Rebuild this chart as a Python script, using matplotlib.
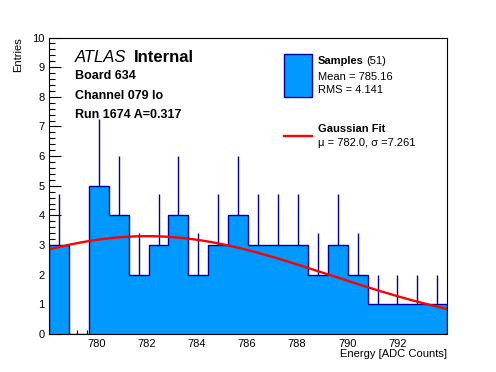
import numpy as np
import matplotlib
matplotlib.use("Agg")
import matplotlib.pyplot as plt
from matplotlib.ticker import MultipleLocator
from matplotlib.patches import Rectangle
from matplotlib.lines import Line2D

plt.rcParams['font.family'] = ['Liberation Sans', 'DejaVu Sans']

# ---- data ----
bin_edges = np.linspace(778.08, 794.0, 21)
counts = [3, 0, 5, 4, 2, 3, 4, 2, 3, 4, 3, 3, 3, 2, 3, 2, 1, 1, 1, 1]
fit_amp = 3.3
fit_mu = 782.0
fit_sigma = 7.261
n_samples = 51
mean_val = 785.16
rms_val = 4.141
x_range = (778.08, 793.98)
y_range = (0, 10)

fill_color = '#0099ff'
edge_color = '#000099'

fig = plt.figure(figsize=(4.96, 3.72), dpi=100)
ax = fig.add_axes([49/496, 1-334/372, (446.7-49)/496, (334-37.5)/372])

counts_arr = np.array(counts, dtype=float)
centers = 0.5*(bin_edges[:-1] + bin_edges[1:])
err = np.sqrt(counts_arr)

ax.stairs(counts_arr, bin_edges, fill=True, color=fill_color, zorder=2)
ax.stairs(counts_arr, bin_edges, fill=False, color=edge_color, lw=1.0, baseline=0, zorder=3)
mask = counts_arr > 0
ax.vlines(centers[mask], counts_arr[mask], (counts_arr+err)[mask], color=edge_color, lw=1.0, zorder=3)

xf = np.linspace(x_range[0], x_range[1], 200)
yf = fit_amp*np.exp(-0.5*((xf-fit_mu)/fit_sigma)**2)
ax.plot(xf, yf, color='red', lw=1.7, zorder=4)

ax.set_xlim(*x_range)
ax.set_ylim(*y_range)
ax.xaxis.set_major_locator(MultipleLocator(2))
ax.xaxis.set_minor_locator(MultipleLocator(0.4))
ax.yaxis.set_major_locator(MultipleLocator(1))
ax.yaxis.set_minor_locator(MultipleLocator(0.2))
ax.tick_params(axis='x', which='major', direction='in', length=6.4, width=0.8, labelsize=8, pad=3.5, top=False)
ax.tick_params(axis='x', which='minor', direction='in', length=3.2, width=0.8, top=False)
ax.tick_params(axis='y', which='major', direction='in', length=8.6, width=0.8, labelsize=8, pad=3, right=False)
ax.tick_params(axis='y', which='minor', direction='in', length=4.3, width=0.8, right=False)
for s in ax.spines.values():
    s.set_linewidth(0.8)
    s.set_zorder(5)

def fx(px):
    return px/496
def fy(py):
    return 1-py/372

fig.text(fx(446.7), fy(354), 'Energy [ADC Counts]', ha='right', va='center', fontsize=8)
fig.text(fx(18), fy(37), 'Entries', ha='center', va='top', rotation=90, fontsize=8)

# top-left labels
fig.text(fx(75), fy(57.5), 'ATLAS', fontsize=12, va='center', ha='left', style='italic')
fig.text(fx(134), fy(57.5), 'Internal', fontsize=12, va='center', ha='left', weight='bold')
fig.text(fx(75), fy(76), 'Board 634', fontsize=9, va='center', ha='left', weight='bold')
fig.text(fx(75), fy(96), 'Channel 079 lo', fontsize=9, va='center', ha='left', weight='bold')
fig.text(fx(75), fy(115), 'Run 1674 A=0.317', fontsize=9, va='center', ha='left', weight='bold')

# legend
fig.add_artist(Rectangle((fx(283.5), fy(96.5)), fx(311.5)-fx(283.5), fy(53.5)-fy(96.5),
                         facecolor=fill_color, edgecolor=edge_color, lw=1.0, transform=fig.transFigure))
fig.add_artist(Line2D([fx(283.5), fx(311.5)], [fy(136), fy(136)], color='red', lw=1.7, transform=fig.transFigure))
t_s = fig.text(fx(318), fy(61.5), 'Samples', fontsize=8, weight='bold', va='center', ha='left')
fig.canvas.draw()
bb = t_s.get_window_extent()
fig.text(bb.x1/496 + 2.5/496, fy(61.5), f'({n_samples})', fontsize=8, va='center', ha='left')
fig.text(fx(318), fy(76.5), f'Mean = {mean_val:.2f}', fontsize=8, va='center', ha='left')
fig.text(fx(318), fy(90), f'RMS = {rms_val:.3f}', fontsize=8, va='center', ha='left')
fig.text(fx(318), fy(129.5), 'Gaussian Fit', fontsize=8, weight='bold', va='center', ha='left')
fig.text(fx(318), fy(143), f'\u03bc = {fit_mu:.1f}, \u03c3 ={fit_sigma:.3f}', fontsize=8, va='center', ha='left')

fig.savefig('out.png', dpi=100)
